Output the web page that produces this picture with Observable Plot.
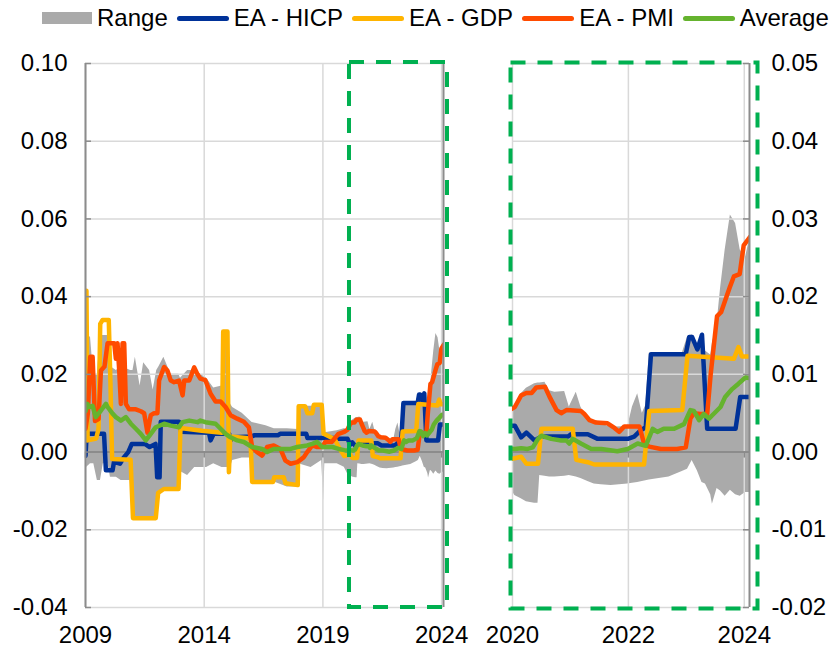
<!DOCTYPE html>
<html><head><meta charset="utf-8">
<script src="https://cdn.jsdelivr.net/npm/d3@7"></script>
<script src="https://cdn.jsdelivr.net/npm/@observablehq/plot@0.6"></script>
<style>
body{margin:0;background:#fff;}
#chart{position:relative;width:838px;height:648px;font-family:"Liberation Sans",Arial,sans-serif;overflow:hidden;}
#legend{position:absolute;left:42px;top:4px;height:28px;display:flex;align-items:center;font-size:24px;color:#000;white-space:nowrap;}
.item{display:flex;align-items:center;margin-right:9px;}
.sw{display:inline-block;margin-right:5px;}
#left{position:absolute;left:0;top:35px;}
#right{position:absolute;left:470px;top:35px;}
</style></head><body>
<div id="chart"><div id="legend"></div><div id="left"></div><div id="right"></div></div>
<script>
// ---- data (year as decimal, value) ----
const hicp = [
[2009.00,-0.0010],[2009.05,0.0047],[2009.78,0.0047],[2009.86,-0.0047],[2010.14,-0.0047],[2010.20,-0.0025],[2010.45,-0.0030],[2010.60,-0.0015],[2010.80,0.0000],[2010.95,0.0021],[2011.50,0.0021],[2011.70,0.0013],[2011.95,0.0021],[2012.02,-0.0065],[2012.12,-0.0065],[2012.17,0.0078],[2012.94,0.0078],[2013.02,0.0052],[2014.20,0.0050],[2014.27,0.0030],[2014.40,0.0047],[2015.05,0.0047],[2015.11,0.0030],[2015.20,0.0038],[2016.00,0.0040],[2016.10,0.0043],[2017.10,0.0043],[2017.20,0.0047],[2018.30,0.0047],[2018.35,0.0036],[2019.45,0.0036],[2019.50,0.0034],[2020.04,0.0034],[2020.15,0.0019],[2020.24,0.0025],[2020.38,0.0015],[2020.50,0.0020],[2020.96,0.0020],[2021.01,0.0023],[2021.30,0.0023],[2021.47,0.0017],[2021.99,0.0017],[2022.10,0.0020],[2022.21,0.0028],[2022.30,0.0032],[2022.39,0.0126],[2022.99,0.0126],[2023.05,0.0148],[2023.10,0.0148],[2023.19,0.0132],[2023.27,0.0151],[2023.36,0.0030],[2023.85,0.0030],[2023.93,0.0071],[2024.10,0.0071]
];
const gdp = [
[2009.00,0.0030],[2009.04,0.0415],[2009.09,0.0030],[2009.45,0.0035],[2009.55,0.0060],[2009.62,0.0330],[2009.72,0.0340],[2009.98,0.0340],[2010.05,0.0180],[2010.12,-0.0018],[2010.90,-0.0020],[2011.00,-0.0170],[2011.96,-0.0170],[2012.06,-0.0105],[2012.30,-0.0095],[2012.92,-0.0095],[2013.00,0.0062],[2013.90,0.0055],[2014.75,0.0050],[2014.80,0.0310],[2014.98,0.0310],[2015.04,-0.0052],[2015.10,0.0040],[2015.95,0.0035],[2016.02,-0.0077],[2016.90,-0.0077],[2016.95,-0.0065],[2017.35,-0.0065],[2017.42,-0.0080],[2017.94,-0.0085],[2017.98,0.0118],[2018.25,0.0118],[2018.35,0.0100],[2018.55,0.0100],[2018.62,0.0122],[2018.95,0.0122],[2019.03,0.0047],[2019.50,0.0033],[2019.66,0.0013],[2019.90,-0.0010],[2020.04,-0.0008],[2020.15,-0.0006],[2020.24,-0.0015],[2020.44,-0.0015],[2020.50,0.0030],[2021.04,0.0030],[2021.10,-0.0010],[2021.30,-0.0013],[2021.41,-0.0016],[2022.27,-0.0016],[2022.36,0.0053],[2022.93,0.0054],[2023.02,0.0124],[2023.82,0.0120],[2023.90,0.0135],[2023.96,0.0123],[2024.10,0.0123]
];
const pmi = [
[2009.00,0.0060],[2009.10,0.0100],[2009.20,0.0245],[2009.30,0.0245],[2009.40,0.0080],[2009.55,0.0085],[2009.65,0.0210],[2009.80,0.0220],[2009.93,0.0280],[2010.21,0.0280],[2010.28,0.0240],[2010.35,0.0280],[2010.42,0.0210],[2010.49,0.0124],[2010.56,0.0280],[2010.63,0.0280],[2010.70,0.0124],[2010.84,0.0110],[2011.12,0.0110],[2011.33,0.0105],[2011.47,0.0100],[2011.61,0.0050],[2011.75,0.0095],[2011.89,0.0100],[2012.03,0.0100],[2012.10,0.0184],[2012.31,0.0219],[2012.45,0.0210],[2012.59,0.0184],[2012.73,0.0180],[2012.94,0.0184],[2013.09,0.0146],[2013.16,0.0184],[2013.37,0.0184],[2013.58,0.0218],[2013.72,0.0200],[2013.84,0.0189],[2014.05,0.0185],[2014.27,0.0150],[2014.48,0.0130],[2014.69,0.0130],[2014.90,0.0116],[2015.11,0.0095],[2015.39,0.0086],[2015.67,0.0078],[2015.88,0.0064],[2016.02,0.0013],[2016.23,0.0000],[2016.44,-0.0009],[2016.65,0.0013],[2016.93,0.0017],[2017.21,0.0008],[2017.42,-0.0022],[2017.64,-0.0030],[2017.92,-0.0026],[2018.20,-0.0013],[2018.34,0.0000],[2018.55,0.0017],[2018.76,0.0013],[2018.97,0.0013],[2019.10,0.0026],[2019.37,0.0026],[2019.66,0.0047],[2019.90,0.0052],[2020.04,0.0058],[2020.15,0.0073],[2020.24,0.0076],[2020.33,0.0076],[2020.41,0.0083],[2020.56,0.0084],[2020.64,0.0071],[2020.76,0.0054],[2020.84,0.0050],[2020.93,0.0054],[2021.18,0.0053],[2021.24,0.0049],[2021.33,0.0041],[2021.44,0.0038],[2021.64,0.0037],[2021.76,0.0031],[2021.84,0.0026],[2021.93,0.0033],[2022.19,0.0033],[2022.27,0.0011],[2022.36,0.0007],[2022.56,0.0004],[2022.84,0.0004],[2022.99,0.0006],[2023.07,0.0043],[2023.13,0.0050],[2023.24,0.0049],[2023.36,0.0049],[2023.42,0.0100],[2023.53,0.0175],[2023.60,0.0180],[2023.67,0.0195],[2023.75,0.0212],[2023.82,0.0226],[2023.92,0.0229],[2023.99,0.0266],[2024.10,0.0277]
];
const average = [
[2009.00,0.0105],[2009.08,0.0124],[2009.15,0.0116],[2009.30,0.0119],[2009.43,0.0090],[2009.65,0.0107],[2009.86,0.0124],[2009.93,0.0116],[2010.14,0.0099],[2010.28,0.0090],[2010.49,0.0081],[2010.70,0.0090],[2010.91,0.0073],[2011.12,0.0060],[2011.33,0.0047],[2011.54,0.0030],[2011.75,0.0047],[2011.96,0.0064],[2012.31,0.0073],[2012.59,0.0068],[2012.94,0.0064],[2013.09,0.0077],[2013.37,0.0081],[2013.72,0.0077],[2013.84,0.0081],[2014.05,0.0077],[2014.48,0.0073],[2014.69,0.0060],[2014.90,0.0047],[2015.11,0.0038],[2015.39,0.0030],[2015.67,0.0026],[2016.02,0.0013],[2016.44,0.0008],[2016.65,0.0000],[2016.93,0.0008],[2017.64,0.0008],[2017.92,0.0013],[2018.34,0.0017],[2018.55,0.0021],[2018.76,0.0026],[2018.97,0.0013],[2019.40,0.0013],[2019.66,0.0008],[2019.90,0.0005],[2020.04,0.0004],[2020.15,0.0005],[2020.26,0.0004],[2020.35,0.0006],[2020.44,0.0017],[2020.50,0.0021],[2020.67,0.0017],[2020.84,0.0015],[2020.93,0.0015],[2020.98,0.0011],[2021.04,0.0017],[2021.18,0.0011],[2021.36,0.0004],[2021.53,0.0004],[2021.81,0.0001],[2021.99,0.0004],[2022.16,0.0011],[2022.30,0.0008],[2022.42,0.0030],[2022.50,0.0026],[2022.61,0.0030],[2022.79,0.0030],[2022.96,0.0036],[2023.07,0.0054],[2023.13,0.0053],[2023.22,0.0041],[2023.30,0.0049],[2023.39,0.0043],[2023.47,0.0049],[2023.59,0.0058],[2023.67,0.0071],[2023.79,0.0081],[2023.90,0.0088],[2024.02,0.0096],[2024.10,0.0095]
];
const rangeYear = [2009.00,2009.04,2009.21,2009.35,2009.50,2009.63,2009.75,2009.95,2010.05,2010.30,2010.50,2010.90,2011.00,2011.10,2011.30,2011.45,2011.70,2011.85,2012.00,2012.10,2012.30,2012.60,2012.93,2013.00,2013.30,2013.60,2014.10,2014.40,2014.75,2014.80,2014.98,2015.04,2015.20,2015.60,2015.95,2016.02,2016.60,2016.95,2017.50,2017.94,2017.98,2018.50,2018.95,2019.03,2019.08,2019.60,2019.90,
2020.04,2020.15,2020.24,2020.38,2020.44,2020.47,2020.56,2020.64,2020.73,2020.90,2020.98,2021.10,2021.18,2021.30,2021.41,2021.53,2021.70,2021.99,2022.07,2022.16,2022.24,2022.30,2022.36,2022.70,2022.93,2023.02,2023.10,2023.19,2023.27,2023.33,2023.42,2023.45,2023.53,2023.59,2023.67,2023.76,2023.85,2023.93,2024.02,2024.10];
const rangeLow = [-0.0170,-0.0040,-0.0030,-0.0030,-0.0073,-0.0073,-0.0030,-0.0030,-0.0065,-0.0065,-0.0073,-0.0073,-0.0170,-0.0170,-0.0170,-0.0170,-0.0170,-0.0170,-0.0170,-0.0099,-0.0099,-0.0099,-0.0099,-0.0050,-0.0060,-0.0040,-0.0040,-0.0030,-0.0040,-0.0040,-0.0040,-0.0052,-0.0022,-0.0015,-0.0015,-0.0077,-0.0077,-0.0077,-0.0090,-0.0090,-0.0030,-0.0040,-0.0022,-0.0125,-0.0030,-0.0030,-0.0039,
-0.0056,-0.0060,-0.0064,-0.0066,-0.0066,-0.0030,-0.0031,-0.0032,-0.0032,-0.0031,-0.0030,-0.0032,-0.0034,-0.0038,-0.0041,-0.0042,-0.0043,-0.0041,-0.0040,-0.0039,-0.0038,-0.0037,-0.0036,-0.0032,-0.0025,-0.0022,-0.0011,-0.0024,-0.0039,-0.0041,-0.0055,-0.0067,-0.0047,-0.0050,-0.0057,-0.0049,-0.0055,-0.0057,-0.0052,-0.0052];
const rangeHigh = [0.0296,0.0296,0.0296,0.0193,0.0200,0.0300,0.0300,0.0300,0.0220,0.0210,0.0220,0.0210,0.0210,0.0244,0.0170,0.0230,0.0210,0.0160,0.0210,0.0220,0.0244,0.0200,0.0200,0.0190,0.0210,0.0210,0.0190,0.0165,0.0170,0.0310,0.0310,0.0130,0.0115,0.0100,0.0080,0.0076,0.0068,0.0060,0.0060,0.0058,0.0118,0.0118,0.0122,0.0050,0.0050,0.0055,0.0060,
0.0058,0.0075,0.0082,0.0088,0.0089,0.0089,0.0090,0.0079,0.0077,0.0078,0.0058,0.0077,0.0058,0.0041,0.0038,0.0036,0.0032,0.0033,0.0058,0.0075,0.0050,0.0060,0.0127,0.0127,0.0127,0.0148,0.0151,0.0135,0.0152,0.0130,0.0125,0.0140,0.0165,0.0210,0.0260,0.0305,0.0294,0.0260,0.0250,0.0277];

const xTicksLeft = [2009, 2014, 2019, 2024];
const xTicksRight = [2020, 2022, 2024];
const yTicksLeft = [-0.04, -0.02, 0, 0.02, 0.04, 0.06, 0.08, 0.10];
const yTicksRight = [-0.02, -0.01, 0, 0.01, 0.02, 0.03, 0.04, 0.05];
const xDomainLeft = [2009, 2024.08];
const xDomainRight = [2020, 2024.09];
const yDomainLeft = [-0.04, 0.10];
const yDomainRight = [-0.02, 0.05];
const highlightStart = 2020.12;

const seriesNames = ["EA - HICP", "EA - GDP", "EA - PMI", "Average"];
const seriesColors = ["#003299", "#ffb400", "#ff4b00", "#65b32e"];
const rangeColor = "#aaaaaa";
const gridColor = "#d9d9d9";
const axisColor = "#8c8c8c";
const boxColor = "#00b050";

const seriesData = [hicp, gdp, pmi, average];
const rangeRows = rangeYear.map((t, i) => ({t, lo: rangeLow[i], hi: rangeHigh[i]}));

// ---- legend ----
const legend = document.getElementById("legend");
function addItem(label, swatchStyle) {
  const item = document.createElement("div"); item.className = "item";
  const sw = document.createElement("span"); sw.className = "sw"; sw.setAttribute("style", swatchStyle);
  const tx = document.createElement("span"); tx.textContent = label;
  item.appendChild(sw); item.appendChild(tx); legend.appendChild(item);
}
addItem("Range", `width:50px;height:12px;background:${rangeColor};margin-left:0`);
seriesNames.forEach((n, i) => addItem(n, `width:52px;height:5px;border-radius:3px;background:${seriesColors[i]}`));

// ---- panels ----
function panel({width, marginLeft, marginRight, xDomain, yDomain, xTicks, yTicks, side}) {
  const xEdge = side === "left" ? xDomain[0] : xDomain[1];
  const marks = [
    Plot.areaY(rangeRows, {x: "t", y1: "lo", y2: "hi", fill: rangeColor, clip: true}),
    Plot.gridX(xTicks, {stroke: gridColor, strokeOpacity: 1, strokeWidth: 1.5}),
    Plot.gridY(yTicks, {stroke: gridColor, strokeOpacity: 1, strokeWidth: 1.5}),
    Plot.ruleY([0], {stroke: axisColor, strokeWidth: 2}),
    Plot.ruleX(xTicks, {x: d => d, y1: 0, y2: 0, insetBottom: -6, stroke: axisColor, strokeWidth: 1.5}),
    ...seriesData.map((s, i) => Plot.line(s, {x: d => d[0], y: d => d[1], stroke: seriesColors[i], strokeWidth: 4.5, strokeLinejoin: "round", clip: true})),
    Plot.ruleX([xEdge], {stroke: axisColor, strokeWidth: 2}),
    side === "left"
      ? Plot.ruleY(yTicks, {y: d => d, x1: xEdge, x2: xEdge, insetRight: -6, stroke: axisColor, strokeWidth: 1.5})
      : Plot.ruleY(yTicks, {y: d => d, x1: xEdge, x2: xEdge, insetLeft: -6, stroke: axisColor, strokeWidth: 1.5}),
    Plot.axisX(xTicks, {tickSize: 0, tickPadding: 18, tickFormat: d => String(d), label: null}),
    Plot.axisY(yTicks, {anchor: side, tickSize: 0, tickPadding: side === "left" ? 18 : 22, tickFormat: d => d.toFixed(2), label: null})
  ];
  if (side === "left") {
    marks.push(Plot.ruleX([xDomain[1]], {stroke: axisColor, strokeWidth: 2}));
    marks.push(Plot.rect([{a: highlightStart, b: xDomain[1]}], {x1: "a", x2: "b", y1: yDomain[0], y2: yDomain[1], fill: "none", stroke: boxColor, strokeWidth: 4, strokeDasharray: "15,12", insetRight: -4, insetTop: -1}));
  } else {
    marks.push(Plot.frame({stroke: boxColor, strokeWidth: 4, strokeDasharray: "15,12", insetLeft: -2, insetRight: -8, insetTop: -1, insetBottom: -1}));
  }
  return Plot.plot({
    width, height: 613, marginLeft, marginRight, marginTop: 28, marginBottom: 41,
    x: {domain: xDomain, label: null}, y: {domain: yDomain, label: null},
    style: {fontFamily: "'Liberation Sans', Arial, sans-serif", fontSize: "24px", color: "#000", background: "transparent", overflow: "visible"},
    marks
  });
}

document.getElementById("left").appendChild(panel({
  width: 470, marginLeft: 85, marginRight: 27, xDomain: xDomainLeft, yDomain: yDomainLeft,
  xTicks: xTicksLeft, yTicks: yTicksLeft, side: "left"
}));
document.getElementById("right").appendChild(panel({
  width: 368, marginLeft: 42, marginRight: 89, xDomain: xDomainRight, yDomain: yDomainRight,
  xTicks: xTicksRight, yTicks: yTicksRight, side: "right"
}));
</script></body></html>
